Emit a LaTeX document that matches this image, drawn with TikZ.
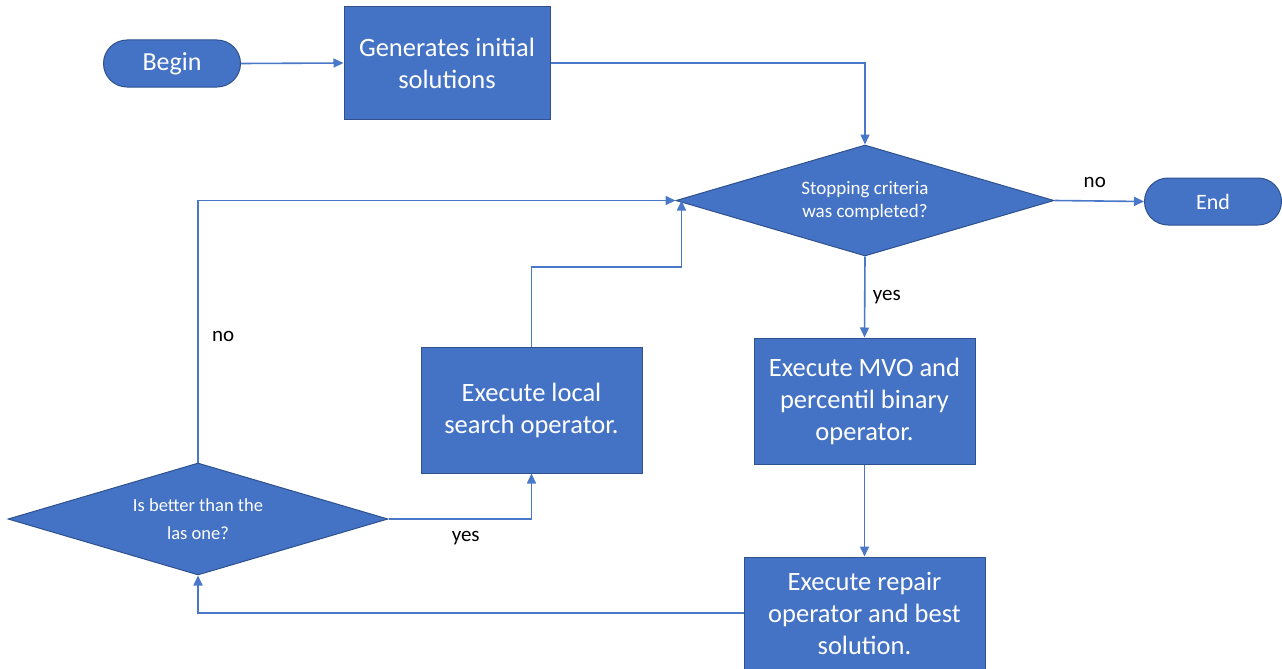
\documentclass[tikz,border=0pt]{standalone}
\usepackage{fontspec}
\setmainfont{Carlito}
\usetikzlibrary{shapes.geometric,shapes.misc,arrows.meta}
\definecolor{fillblue}{HTML}{4472C4}
\definecolor{edgeblue}{HTML}{2F528F}
\definecolor{lineblue}{HTML}{4A78C8}
\tikzset{
  boxnode/.style={rectangle,fill=fillblue,draw=edgeblue,line width=1pt,text=white,align=center,font=\fontsize{26.5}{32}\selectfont,inner sep=0pt},
  termnode/.style={rounded rectangle,fill=fillblue,draw=edgeblue,line width=1pt,text=white,font=\fontsize{26}{30}\selectfont,minimum width=137pt,minimum height=47pt,inner sep=0pt},
  decnode/.style={diamond,fill=fillblue,draw=edgeblue,line width=1pt,text=white,align=center,font=\fontsize{19}{23}\selectfont,inner sep=0pt,aspect=3.4},
  conn/.style={draw=lineblue,line width=1.6pt,-{Triangle[length=10pt,width=9pt]}},
  lbl/.style={font=\fontsize{21}{25}\selectfont,text=black}
}
\begin{document}
\begin{tikzpicture}[x=1pt,y=-1pt]
\useasboundingbox (0,0) rectangle (1282,669);
\node[termnode] (begin) at (172,63.5) {Begin};
\node[boxnode,minimum width=206pt,minimum height=112pt] (gen) at (447,63) {Generates initial\\solutions};
\node[decnode,minimum width=378pt,minimum height=111pt] (stop) at (865,200.5) {Stopping criteria\\was completed?};
\node[termnode,font=\fontsize{22}{26}\selectfont] (end) at (1213,201.5) {End};
\node[boxnode,minimum width=221pt,minimum height=126pt] (mvo) at (864.5,401) {Execute MVO and\\percentil binary\\operator.};
\node[boxnode,minimum width=241pt,minimum height=112pt] (rep) at (864.5,613) {Execute repair\\operator and best\\solution.};
\node[boxnode,minimum width=221pt,minimum height=126pt] (loc) at (531.5,410) {Execute local\\search operator.};
\node[decnode,minimum width=380pt,minimum height=112pt,font=\fontsize{18.5}{28}\selectfont] (better) at (198,519) {Is better than the\\las one?};
\coordinate (stopin) at ([xshift=6pt]stop.west);
\coordinate (locturn) at (531.5,267);

\draw[conn] (begin.east) -- (gen.west);
\draw[conn] (gen.east) -| (stop.north);
\draw[conn] (stop.east) -- node[lbl,above=9pt,pos=0.45] {no} (end.west);
\draw[conn] (stop.south) -- node[lbl,right=4pt,pos=0.5] {yes} (mvo.north);
\draw[conn] (mvo.south) -- (rep.north);
\draw[conn] (rep.west) -| (better.south);
\draw[conn] (better.east) -| node[lbl,below=8pt,pos=0.27] {yes} (loc.south);
\draw[conn] (better.north) |- node[lbl,right=10pt,pos=0.24] {no} (stop.west);
\draw[conn] (loc.north) -- (locturn) -| (stopin);
\end{tikzpicture}
\end{document}
